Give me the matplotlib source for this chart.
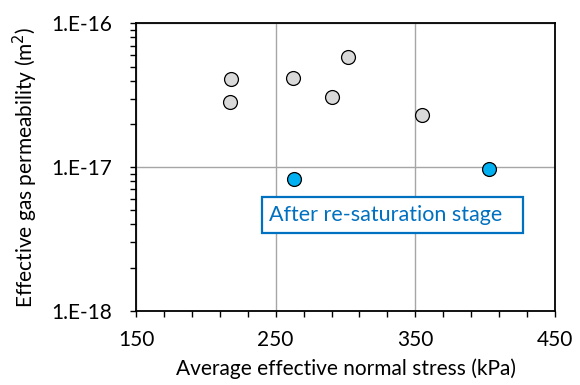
import matplotlib
matplotlib.use("Agg")
import matplotlib.pyplot as plt
from matplotlib.ticker import FixedLocator, LogLocator, NullFormatter, FuncFormatter
from matplotlib.patches import Rectangle
import numpy as np

plt.rcParams['font.family'] = ['Lato', 'DejaVu Sans']

# Data
stress_before = [218.0, 217.3, 262.4, 302.0, 290.1, 354.7]
perm_before = [4.07e-17, 2.85e-17, 4.14e-17, 5.86e-17, 3.07e-17, 2.31e-17]
stress_after = [262.9, 402.5]
perm_after = [8.25e-18, 9.68e-18]
x_ticks = [150, 250, 350, 450]
y_ticks = [1e-18, 1e-17, 1e-16]
annotation = "After re-saturation stage"

fig = plt.figure(figsize=(5.8, 3.85), dpi=100)
ax = fig.add_axes([136/580, 1-311/385, (555-136)/580, (311-23.3)/385])

ax.set_xlim(150, 450)
ax.set_yscale('log')
ax.set_ylim(1e-18, 1e-16)

ax.xaxis.set_major_locator(FixedLocator(x_ticks))
ax.xaxis.set_minor_locator(FixedLocator(np.arange(150, 451, 20)))
ax.yaxis.set_major_locator(FixedLocator(y_ticks))
ax.yaxis.set_minor_locator(LogLocator(base=10, subs=np.arange(2, 10)))
ax.yaxis.set_minor_formatter(NullFormatter())
ax.yaxis.set_major_formatter(FuncFormatter(lambda v, p: "1.E%d" % int(round(np.log10(v)))))

ax.grid(True, which='major', color='#a6a6a6', linewidth=1.0)
ax.set_axisbelow(True)

for s in ax.spines.values():
    s.set_linewidth(1.3)
    s.set_color('black')

ax.tick_params(which='both', direction='out', color='black', labelsize=15, width=1)
ax.tick_params(which='both', length=4)
ax.tick_params(axis='x', pad=10)
ax.tick_params(axis='y', pad=13)

ax.scatter(stress_before, perm_before, s=100, facecolor='#d9d9d9', edgecolor='black', linewidth=0.9, zorder=3)
ax.scatter(stress_after, perm_after, s=100, facecolor='#00b0f0', edgecolor='black', linewidth=0.9, zorder=3)

ax.set_xlabel("Average effective normal stress (kPa)", fontsize=15, labelpad=6)
ax.set_ylabel("Effective gas permeability (m$^2$)", fontsize=15, labelpad=8)

ax.add_patch(Rectangle((0.300, 0.271), 0.624, 0.126, transform=ax.transAxes,
                       facecolor='white', edgecolor='#0070c0', linewidth=1.6, zorder=4))
ax.text(0.318, 0.334, annotation, transform=ax.transAxes, fontsize=15.5, color='#0070c0',
        ha='left', va='center', zorder=5)

fig.savefig("out.png", dpi=100)
